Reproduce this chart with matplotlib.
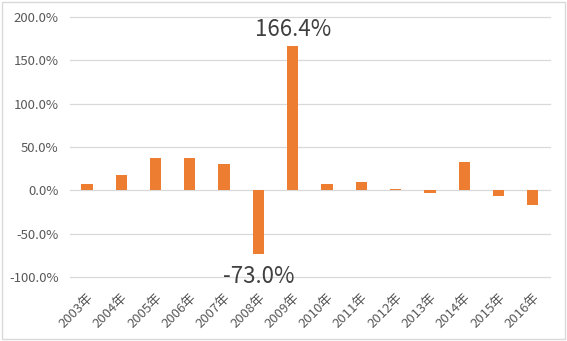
import matplotlib.pyplot as plt
import numpy as np
from matplotlib.ticker import FuncFormatter

plt.rcParams['font.family'] = ['Noto Sans CJK SC', 'DejaVu Sans']

years = ["2003年", "2004年", "2005年", "2006年", "2007年", "2008年", "2009年",
         "2010年", "2011年", "2012年", "2013年", "2014年", "2015年", "2016年"]
growth = [7.7, 17.6, 37.6, 37.6, 30.0, -73.0, 166.4,
          6.9, 9.6, 2.0, -3.2, 32.2, -6.9, -17.0]
yticks = [-100, -50, 0, 50, 100, 150, 200]

fig = plt.figure(figsize=(5.67, 3.41), dpi=100)
ax = fig.add_axes([0.123, 0.188, 0.847, 0.762])

x = np.arange(len(years))
ax.bar(x, growth, width=0.33, color="#ED7D31", zorder=3)

ax.set_xlim(-0.5, len(years) - 0.5)
ax.set_ylim(-100, 200)
ax.set_yticks(yticks)
ax.yaxis.set_major_formatter(FuncFormatter(lambda v, p: "%.1f%%" % v))
ax.grid(axis="y", color="#D9D9D9", linewidth=0.9, zorder=0)
for gl in ax.get_ygridlines():
    gl.set_clip_on(False)

for s in ax.spines.values():
    s.set_visible(False)

ax.tick_params(axis="y", length=0, colors="#595959", labelsize=9.5, pad=8)
ax.tick_params(axis="x", length=0, colors="#595959", labelsize=9.5, pad=10)
ax.set_xticks(x)
ax.set_xticklabels(years, rotation=45, ha="right", rotation_mode="anchor")

# highlight the two extreme years
i09 = years.index("2009年")
ax.text(x[i09], growth[i09] + 6, "%.1f%%" % growth[i09], ha="center", va="bottom",
        fontsize=16, color="#404040", zorder=4)
i08 = years.index("2008年")
ax.text(x[i08], -100, "%.1f%%" % growth[i08], ha="center", va="center",
        fontsize=16, color="#404040", zorder=4)

# outer frame of the chart
fig.patches.append(plt.Rectangle((0.004, 0.006), 0.992, 0.988, transform=fig.transFigure,
                                 fill=False, edgecolor="#D9D9D9", linewidth=1))

fig.savefig("out.png", dpi=100)
